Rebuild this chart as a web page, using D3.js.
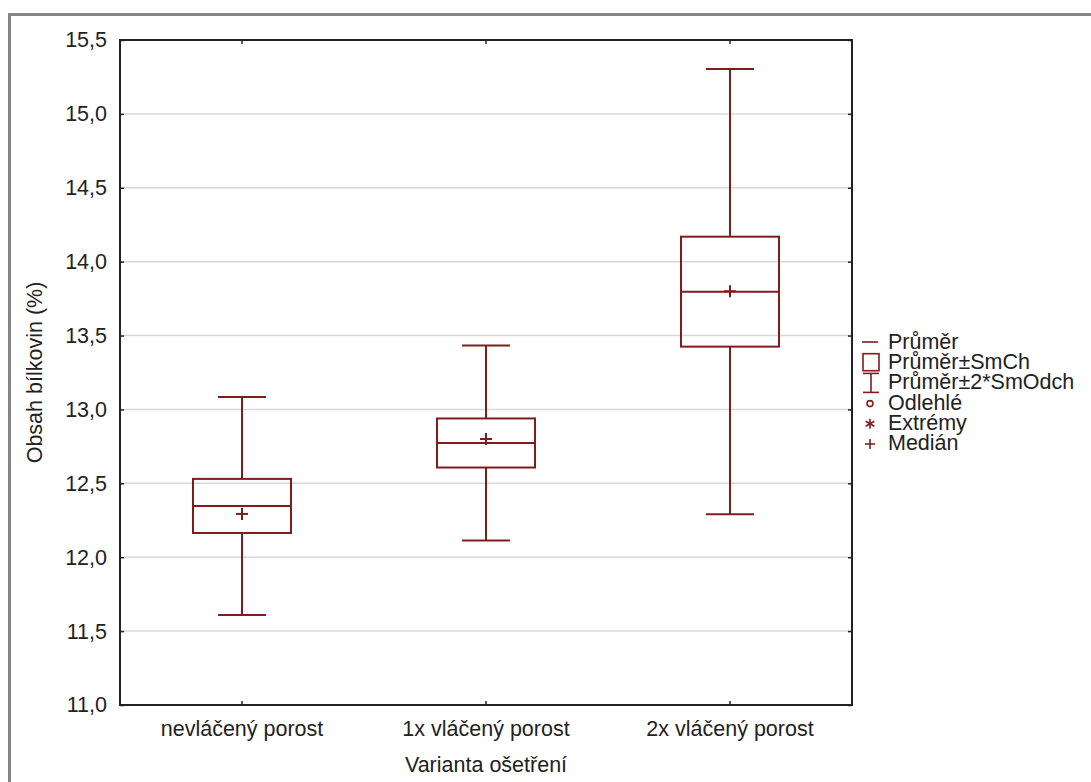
<!DOCTYPE html>
<html>
<head>
<meta charset="utf-8">
<script src="https://cdn.jsdelivr.net/npm/d3@7"></script>
<style>
  body { margin: 0; background: #fff; }
  text { font-family: "Liberation Sans", Arial, sans-serif; fill: #222; }
</style>
</head>
<body>
<div id="viz"></div>
<script>
// values
const categories = ['nevláčený porost', '1x vláčený porost', '2x vláčený porost']
const means = [12.347, 12.773, 13.797]
const stdErrors = [0.183, 0.166, 0.372]
const stdDevs = [0.369, 0.330, 0.753]
const medians = [12.293, 12.80, 13.80]
const yTicks = [11.0, 11.5, 12.0, 12.5, 13.0, 13.5, 14.0, 14.5, 15.0, 15.5]
const legendLabels = ['Průměr', 'Průměr±SmCh', 'Průměr±2*SmOdch', 'Odlehlé', 'Extrémy', 'Medián']

const width = 1091
const height = 782
const plot = { left: 120, top: 40, right: 852, bottom: 705 }
const red = '#7f1d1d'
const fontSize = 21.5

const cz = d3.formatLocale({ decimal: ',', thousands: ' ', grouping: [3], currency: ['', ' Kč'] })
const fmt = cz.format('.1f')

const svg = d3.select('#viz')
  .append('svg')
    .attr('width', width)
    .attr('height', height)

// outer grey frame
svg.append('rect')
  .attr('x', 9.5).attr('y', 14.5)
  .attr('width', 1200).attr('height', 900)
  .attr('fill', '#fff')
  .attr('stroke', '#858585')
  .attr('stroke-width', 3)

const x = d3.scaleBand()
  .domain(categories)
  .range([plot.left, plot.right])
  .padding(0)

const y = d3.scaleLinear()
  .domain([11, 15.5])
  .range([plot.bottom, plot.top])

// grid
svg.append('g')
  .selectAll('line')
  .data(yTicks.slice(1, -1))
  .join('line')
    .attr('x1', plot.left).attr('x2', plot.right)
    .attr('y1', d => y(d)).attr('y2', d => y(d))
    .attr('stroke', '#d8d8d8')
    .attr('stroke-width', 1.5)

// axes
svg.append('g')
  .attr('transform', 'translate(' + plot.left + ',0)')
  .call(d3.axisLeft(y).tickValues(yTicks).tickFormat(fmt).tickSizeInner(-4).tickSizeOuter(0).tickPadding(13))

svg.append('g')
  .attr('transform', 'translate(' + plot.right + ',0)')
  .call(d3.axisRight(y).tickValues(yTicks).tickFormat('').tickSizeInner(-4).tickSizeOuter(0))

svg.append('g')
  .attr('transform', 'translate(0,' + plot.bottom + ')')
  .call(d3.axisBottom(x).tickSizeInner(-4).tickSizeOuter(0).tickPadding(16))

svg.append('g')
  .attr('transform', 'translate(0,' + plot.top + ')')
  .call(d3.axisTop(x).tickFormat('').tickSizeInner(-4).tickSizeOuter(0))

svg.selectAll('.domain').remove()
svg.selectAll('.tick line').attr('stroke', '#222').attr('stroke-width', 1.5)
svg.selectAll('.tick text')
  .attr('font-size', fontSize)
  .attr('font-family', '"Liberation Sans", Arial, sans-serif')
  .attr('fill', '#222')

svg.append('rect')
  .attr('x', plot.left).attr('y', plot.top)
  .attr('width', plot.right - plot.left).attr('height', plot.bottom - plot.top)
  .attr('fill', 'none')
  .attr('stroke', '#222')
  .attr('stroke-width', 2)

// axis titles
svg.append('text')
  .attr('x', (plot.left + plot.right) / 2)
  .attr('y', 772)
  .attr('text-anchor', 'middle')
  .attr('font-size', fontSize)
  .text('Varianta ošetření')

svg.append('text')
  .attr('transform', 'translate(42,' + ((plot.top + plot.bottom) / 2) + ') rotate(-90)')
  .attr('text-anchor', 'middle')
  .attr('font-size', fontSize)
  .text('Obsah bílkovin (%)')

// boxes
const boxW = 98
const capW = 48
const groups = categories.map((c, i) => ({
  cx: x(c) + x.bandwidth() / 2,
  mean: means[i], se: stdErrors[i], sd: stdDevs[i], median: medians[i]
}))

const g = svg.append('g')
  .attr('stroke', red)
  .attr('stroke-width', 2)
  .attr('fill', 'none')

groups.forEach(d => {
  const hi = d.mean + 2 * d.sd
  const lo = d.mean - 2 * d.sd
  // whiskers: mean +- 2 SD
  g.append('line').attr('x1', d.cx).attr('x2', d.cx).attr('y1', y(hi)).attr('y2', y(d.mean + d.se))
  g.append('line').attr('x1', d.cx).attr('x2', d.cx).attr('y1', y(lo)).attr('y2', y(d.mean - d.se))
  g.append('line').attr('x1', d.cx - capW / 2).attr('x2', d.cx + capW / 2).attr('y1', y(hi)).attr('y2', y(hi))
  g.append('line').attr('x1', d.cx - capW / 2).attr('x2', d.cx + capW / 2).attr('y1', y(lo)).attr('y2', y(lo))
  // box: mean +- SE
  g.append('rect')
    .attr('x', d.cx - boxW / 2).attr('width', boxW)
    .attr('y', y(d.mean + d.se)).attr('height', y(d.mean - d.se) - y(d.mean + d.se))
  g.append('line').attr('x1', d.cx - boxW / 2).attr('x2', d.cx + boxW / 2).attr('y1', y(d.mean)).attr('y2', y(d.mean))
  // median
  g.append('line').attr('x1', d.cx - 6).attr('x2', d.cx + 6).attr('y1', y(d.median)).attr('y2', y(d.median))
  g.append('line').attr('x1', d.cx).attr('x2', d.cx).attr('y1', y(d.median) - 6).attr('y2', y(d.median) + 6)
})

// legend
const lg = svg.append('g').attr('transform', 'translate(862,0)')
const rowY = i => 342 + i * 20.2
const sym = lg.append('g').attr('stroke', red).attr('stroke-width', 1.6).attr('fill', 'none')

sym.append('line').attr('x1', 0).attr('x2', 16).attr('y1', rowY(0)).attr('y2', rowY(0))
sym.append('rect').attr('x', 1).attr('y', rowY(1) - 8.5).attr('width', 16).attr('height', 17)
sym.append('line').attr('x1', 1).attr('x2', 17).attr('y1', rowY(2) - 9).attr('y2', rowY(2) - 9)
sym.append('line').attr('x1', 9).attr('x2', 9).attr('y1', rowY(2) - 9).attr('y2', rowY(2) + 10)
sym.append('line').attr('x1', 1).attr('x2', 17).attr('y1', rowY(2) + 10).attr('y2', rowY(2) + 10)
sym.append('circle').attr('cx', 8).attr('cy', rowY(3) + 1).attr('r', 3)
const ay = rowY(4) + 1
;[0, 60, 120].forEach(a => {
  const r = a * Math.PI / 180
  sym.append('line')
    .attr('x1', 8 - 5 * Math.sin(r)).attr('x2', 8 + 5 * Math.sin(r))
    .attr('y1', ay - 5 * Math.cos(r)).attr('y2', ay + 5 * Math.cos(r))
})
sym.append('line').attr('x1', 3).attr('x2', 13).attr('y1', rowY(5) + 1).attr('y2', rowY(5) + 1)
sym.append('line').attr('x1', 8).attr('x2', 8).attr('y1', rowY(5) - 4).attr('y2', rowY(5) + 6)

lg.selectAll('text.leg')
  .data(legendLabels)
  .join('text')
    .attr('class', 'leg')
    .attr('x', 26)
    .attr('y', (d, i) => rowY(i) + 7)
    .attr('font-size', fontSize)
    .text(d => d)
</script>
</body>
</html>
